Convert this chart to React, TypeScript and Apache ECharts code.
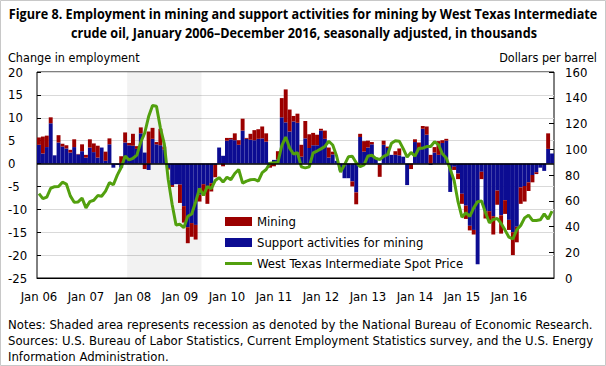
import React, { useEffect, useRef } from 'react';
import * as echarts from 'echarts';

const YEARS = ['06', '07', '08', '09', '10', '11', '12', '13', '14', '15', '16'];
const MONTHS = ['Jan', 'Feb', 'Mar', 'Apr', 'May', 'Jun', 'Jul', 'Aug', 'Sep', 'Oct', 'Nov', 'Dec'];
const categories: string[] = [];
YEARS.forEach((y) => MONTHS.forEach((m) => categories.push(`${m} ${y}`)));

// Support activities for mining (thousands), monthly change
const support = [
  4.1, 2.2, 3.6, 8.8, 1.8, 4.6, 3.7, 3.3, 2.4, 3.6, 2.0, 2.7,
  1.3, 3.5, 2.5, 1.3, 3.5, 0.6, 4.2, -0.9, -0.3, -0.9, 4.6, 4.0,
  3.9, 3.2, 6.6, 2.4, -1.4, 5.4, 4.2, 4.0, 3.1, -1.0, -4.7, -4.5,
  -4.6, -9.3, -13.9, -13.0, -13.4, -6.8, -4.5, -5.0, -4.3, -0.3, 3.5, 1.7,
  5.0, 5.3, 5.1, 4.1, 7.2, 5.4, 5.2, 5.1, 5.4, 5.5, 4.8, 0.3,
  0.8, 0.9, 10.1, 9.0, 7.0, 9.2, 8.9, 1.5, 5.5, 3.4, 4.0, 4.0,
  7.2, 5.4, 1.3, 2.0, 0.6, -1.5, -3.2, -3.2, -3.9, -6.3, 5.8, 2.6,
  3.5, 4.2, 1.3, -0.2, 4.1, 3.4, 1.9, 1.9, 1.8, 1.5, -4.7, 0.0,
  4.7, 3.0, 7.6, 6.3, -0.3, 2.4, 1.9, 4.5, 5.0, -6.2, -0.7, -2.2,
  -6.6, -9.2, -13.6, -14.5, -22.0, -1.8, -10.5, -10.4, -11.5, -5.9, -11.3, -8.0,
  -12.3, -15.0, -13.8, -5.2, -4.9, -4.1, -2.5, -1.9, -0.9, -1.6, 3.2, 2.2,
];

// Mining (thousands), monthly change
const mining = [
  1.6, 3.7, 2.5, 1.3, 0.0, 1.6, 0.6, 0.7, 0.6, 1.7, 0.1, 1.5,
  0.6, 1.8, 1.9, 2.6, 0.0, 2.0, 1.3, 0.0, 0.0, 1.6, 2.2, 0.5,
  2.6, 0.6, 1.3, -1.2, 7.0, 2.4, 0.5, 3.6, 0.6, -0.3, -0.4, 0.0,
  -4.0, -3.6, -3.5, -3.0, -3.2, -1.5, -2.0, -3.8, -1.8, -2.7, 0.0, -0.6,
  0.6, 0.3, 1.5, 1.0, 2.6, 0.2, 1.3, 2.2, 2.1, 2.6, 1.8, -0.9,
  -0.6, 1.8, 4.2, 7.2, 4.8, 1.2, 2.0, 2.6, 3.8, 3.0, 2.7, 2.3,
  0.4, 1.8, 2.2, 0.6, 0.0, 0.0, 0.0, 0.0, -1.1, -2.6, 0.7, 2.3,
  1.5, 0.5, 0.0, -2.7, 0.9, 0.3, 0.0, 0.8, 1.5, 0.0, 0.0, -1.2,
  0.6, 1.6, 0.6, 1.8, 1.9, 1.2, 3.0, 0.6, 0.4, 0.0, -0.7, -1.2,
  -2.2, -2.9, -1.0, -1.0, 0.0, -1.6, -1.5, -2.0, -4.0, -3.1, -4.0, -3.0,
  -2.2, -5.0, -3.4, -3.6, -3.4, -1.9, -1.6, -0.4, 0.0, 0.0, 3.4, 0.0,
];

// West Texas Intermediate spot price (dollars per barrel)
const wti = [
  65.5, 61.6, 62.9, 69.7, 70.9, 71.0, 74.4, 73.0, 63.8, 58.9, 59.1, 62.0,
  54.5, 59.3, 60.4, 64.0, 63.5, 67.5, 74.1, 72.4, 79.9, 85.8, 94.8, 91.7,
  93.0, 95.4, 105.5, 112.6, 125.4, 133.9, 133.4, 116.7, 104.1, 76.6, 57.3, 41.1,
  41.7, 39.1, 47.9, 49.7, 59.0, 69.6, 64.2, 71.1, 69.4, 75.7, 78.0, 74.5,
  78.3, 76.4, 81.2, 84.3, 73.7, 75.3, 76.3, 76.6, 75.2, 81.9, 84.3, 89.2,
  89.6, 89.7, 102.9, 109.5, 100.9, 96.3, 97.3, 86.3, 85.5, 86.3, 97.2, 98.6,
  100.3, 102.2, 106.2, 103.3, 94.7, 82.3, 87.9, 94.1, 94.5, 89.5, 86.5, 87.9,
  94.8, 95.3, 92.9, 92.0, 94.5, 95.8, 104.6, 106.6, 106.3, 100.5, 93.9, 97.6,
  94.6, 100.8, 100.8, 102.1, 102.2, 105.8, 103.6, 96.5, 93.2, 84.4, 75.8, 59.3,
  47.2, 50.6, 47.8, 54.5, 59.3, 59.8, 50.9, 42.9, 45.5, 46.2, 42.4, 37.2,
  31.7, 30.3, 37.5, 40.8, 46.7, 48.8, 44.7, 44.7, 45.2, 49.8, 45.7, 52.0,
];

const recessionStart = 'Dec 07';
const recessionEnd = 'Jun 09';

const TITLE1 = 'Figure 8. Employment in mining and support activities for mining by West Texas Intermediate';
const TITLE2 = 'crude oil, January 2006\u2013December 2016, seasonally adjusted, in thousands';
const NOTES = 'Notes: Shaded area represents recession as denoted by the National Bureau of Economic Research.\nSources: U.S. Bureau of Labor Statistics, Current Employment Statistics survey, and the U.S. Energy\nInformation Administration.';

const FONT = "'DejaVu Sans Condensed', 'Liberation Sans Narrow', sans-serif";
const TFONT = "'Open Sans', 'DejaVu Sans Condensed', sans-serif";

function measure(text: string, font: string): number {
  const ctx = document.createElement('canvas').getContext('2d');
  if (!ctx) return text.length * 8;
  ctx.font = font;
  return ctx.measureText(text).width;
}

export default function App() {
  const ref = useRef<HTMLDivElement>(null);
  useEffect(() => {
    if (!ref.current) return;
    const chart = echarts.init(ref.current, undefined, { renderer: 'svg' });
    const rs = categories.indexOf(recessionStart);
    const re = categories.indexOf(recessionEnd) + 1;
    const titleFont = `bold 15px ${TFONT}`;
    const sx = Math.min(1, 589 / measure(TITLE1, titleFont));
    chart.setOption({
      animation: false,
      textStyle: { fontFamily: FONT },
      graphic: [
        { type: 'rect', shape: { x: 0.5, y: 0.5, width: 605, height: 365 }, style: { fill: 'none', stroke: '#c8c8c8', lineWidth: 1 }, silent: true },
        { type: 'text', x: 303, y: 13, scaleX: sx, style: { text: TITLE1, font: titleFont, fill: '#000', align: 'center', verticalAlign: 'middle' } },
        { type: 'text', x: 304, y: 32, scaleX: sx, style: { text: TITLE2, font: titleFont, fill: '#000', align: 'center', verticalAlign: 'middle' } },
        { type: 'text', x: 8, y: 57, style: { text: 'Change in employment', font: `12.5px ${FONT}`, fill: '#000', verticalAlign: 'middle' } },
        { type: 'text', x: 597, y: 57, style: { text: 'Dollars per barrel', font: `12.5px ${FONT}`, fill: '#000', align: 'right', verticalAlign: 'middle' } },
        { type: 'text', x: 8, y: 316, style: { text: NOTES, font: `13px ${FONT}`, fill: '#000', lineHeight: 16 } },
      ],
      legend: {
        data: [
          { name: 'Mining', icon: 'rect' },
          { name: 'Support activities for mining', icon: 'rect' },
          { name: 'West Texas Intermediate Spot Price', icon: 'path://M0,0 L0,0 M0,3 L27,3 L27,6 L0,6 Z M0,9 L0,9' },
        ],
        orient: 'vertical',
        left: 220,
        top: 210,
        itemWidth: 27,
        itemHeight: 9,
        itemGap: 8,
        textStyle: { fontFamily: FONT, fontSize: 13, color: '#000' },
        selectedMode: false,
      },
      grid: { left: 37, right: 52, top: 72, bottom: 88, show: true, borderColor: '#000', borderWidth: 1, backgroundColor: 'transparent' },
      xAxis: [
        {
          type: 'category',
          data: categories,
          boundaryGap: true,
          axisLine: { onZero: false, lineStyle: { color: '#000' } },
          axisTick: { show: false },
          axisLabel: {
            interval: (i: number) => i % 12 === 0,
            color: '#000', fontSize: 13, margin: 12, fontFamily: FONT,
          },
          splitLine: { show: false },
        },
        { type: 'value', min: 0, max: categories.length, show: false },
      ],
      yAxis: [
        {
          type: 'value', min: -25, max: 20, interval: 5,
          axisLine: { show: false },
          axisTick: { show: true, inside: true, length: 4, lineStyle: { color: '#000' } },
          axisLabel: { align: 'left', margin: 29, color: '#000', fontSize: 13, fontFamily: FONT },
          splitLine: { show: true, lineStyle: { color: '#d9d9d9', width: 1 } },
        },
        {
          type: 'value', min: 0, max: 160, interval: 20, position: 'right',
          axisLine: { show: false },
          axisTick: { show: true, inside: true, length: 5, lineStyle: { color: '#000' } },
          axisLabel: { margin: 11, color: '#000', fontSize: 13, fontFamily: FONT },
          splitLine: { show: false },
        },
      ],
      series: [
        {
          name: 'recession', type: 'line', xAxisIndex: 1, yAxisIndex: 0, data: [], z: 0, silent: true,
          markArea: { silent: true, itemStyle: { color: 'rgba(0,0,0,0.05)' }, data: [[{ xAxis: rs }, { xAxis: re }]] },
        },
        {
          name: 'Support activities for mining', type: 'bar', stack: 'emp', data: support,
          itemStyle: { color: '#0c0c92' }, barCategoryGap: '0%', z: 2,
        },
        {
          name: 'Mining', type: 'bar', stack: 'emp', data: mining,
          itemStyle: { color: '#9b0000' }, barCategoryGap: '0%', z: 2,
        },
        {
          name: 'zero', type: 'line', xAxisIndex: 1, yAxisIndex: 0, data: [], z: 3, silent: true,
          markLine: { silent: true, symbol: ['none', 'none'], label: { show: false }, lineStyle: { color: '#000', width: 1.5, type: 'solid' }, data: [{ yAxis: 0 }] },
        },
        {
          name: 'West Texas Intermediate Spot Price', type: 'line', yAxisIndex: 1, data: wti,
          showSymbol: false, symbol: 'none', z: 4,
          lineStyle: { color: '#52a00e', width: 3 }, itemStyle: { color: '#52a00e' },
        },
      ],
    });
    return () => chart.dispose();
  }, []);
  return <div ref={ref} style={{ position: 'absolute', left: 0, top: 0, width: 606, height: 366, background: '#fff' }} />;
}
